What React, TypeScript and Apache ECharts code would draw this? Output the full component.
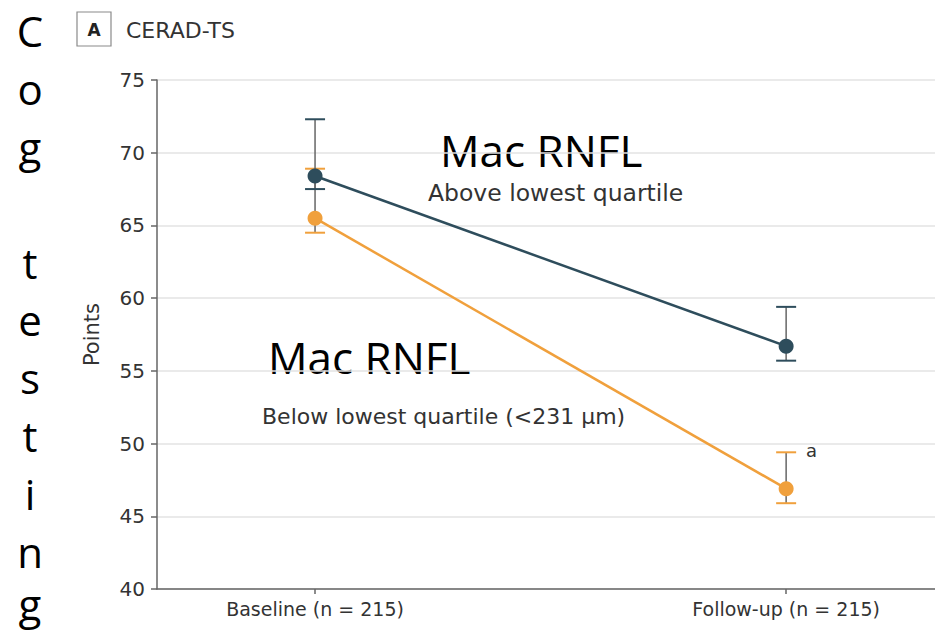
import React, { useEffect, useRef } from "react";
import * as echarts from "echarts";

const categories = ["Baseline (n = 215)", "Follow-up (n = 215)"];
const xPositions = [0, 1];
const aboveMean = [68.4, 56.7];
const aboveLow = [67.5, 55.7];
const aboveHigh = [72.3, 59.4];
const belowMean = [65.5, 46.9];
const belowLow = [64.5, 45.9];
const belowHigh = [68.9, 49.4];
const yTicks = { min: 40, max: 75, interval: 5 };

const DARK = "#2e4d5c";
const ORANGE = "#f0a03c";
const SMALL_FONT = "DejaVu Sans";
const BIG_FONT = "Open Sans";

function errorSeries(means: number[], lows: number[], highs: number[], color: string) {
  return {
    type: "custom",
    silent: true,
    z: 1,
    data: xPositions.map((x, i) => [x, lows[i], highs[i], means[i]]),
    renderItem: (params: any, api: any) => {
      const x = api.value(0);
      const lo = api.coord([x, api.value(1)]);
      const hi = api.coord([x, api.value(2)]);
      const hw = 10;
      return {
        type: "group",
        children: [
          {
            type: "line",
            shape: { x1: lo[0], y1: lo[1], x2: hi[0], y2: hi[1] },
            style: { stroke: "#666666", lineWidth: 1.5 },
          },
          {
            type: "line",
            shape: { x1: lo[0] - hw, y1: lo[1], x2: lo[0] + hw, y2: lo[1] },
            style: { stroke: color, lineWidth: 2 },
          },
          {
            type: "line",
            shape: { x1: hi[0] - hw, y1: hi[1], x2: hi[0] + hw, y2: hi[1] },
            style: { stroke: color, lineWidth: 2 },
          },
        ],
      };
    },
  };
}

export default function App() {
  const ref = useRef<HTMLDivElement>(null);
  useEffect(() => {
    document.body.style.margin = "0";
    if (!ref.current) return;
    const chart = echarts.init(ref.current, null, { renderer: "svg" });
    chart.setOption({
      animation: false,
      backgroundColor: "#ffffff",
      grid: { left: 157, right: 0, top: 80, bottom: 42 },
      xAxis: {
        type: "value",
        min: -0.3355,
        max: 1.316,
        splitLine: { show: false },
        axisLine: { show: true, lineStyle: { color: "#666666", width: 1.5 } },
        axisTick: {
          show: true,
          customValues: xPositions,
          length: 5,
          lineStyle: { color: "#666666", width: 1.5 },
        },
        axisLabel: {
          customValues: xPositions,
          formatter: (v: number) => categories[Math.round(v)] ?? "",
          fontFamily: SMALL_FONT,
          fontSize: 19,
          color: "#333333",
          margin: 10,
        },
      },
      yAxis: {
        type: "value",
        min: yTicks.min,
        max: yTicks.max,
        interval: yTicks.interval,
        name: "Points",
        nameLocation: "middle",
        nameRotate: 90,
        nameGap: 55,
        nameTextStyle: { fontFamily: SMALL_FONT, fontSize: 21, color: "#333333" },
        axisLine: { show: true, onZero: false, lineStyle: { color: "#666666", width: 1.5 } },
        axisTick: { show: true, length: 6, lineStyle: { color: "#666666", width: 1.5 } },
        axisLabel: { fontFamily: SMALL_FONT, fontSize: 20, color: "#333333", margin: 12 },
        splitLine: { show: true, lineStyle: { color: "#e3e3e3", width: 1.5 } },
      },
      series: [
        errorSeries(belowMean, belowLow, belowHigh, ORANGE),
        errorSeries(aboveMean, aboveLow, aboveHigh, DARK),
        {
          type: "line",
          z: 3,
          data: xPositions.map((x, i) => [x, belowMean[i]]),
          symbol: "circle",
          symbolSize: 15,
          lineStyle: { color: ORANGE, width: 2.5 },
          itemStyle: { color: ORANGE },
        },
        {
          type: "line",
          z: 4,
          data: xPositions.map((x, i) => [x, aboveMean[i]]),
          symbol: "circle",
          symbolSize: 15,
          lineStyle: { color: DARK, width: 2.5 },
          itemStyle: { color: DARK },
        },
      ],
      graphic: [
        {
          type: "text",
          x: 30,
          y: 2,
          style: {
            text: "C\no\ng\n \nt\ne\ns\nt\ni\nn",
            fontFamily: BIG_FONT,
            fontSize: 42,
            lineHeight: 57.8,
            fill: "#000000",
            align: "center",
            verticalAlign: "top",
          },
        },
        {
          type: "text",
          x: 30,
          y: 603,
          style: {
            text: "g",
            fontFamily: BIG_FONT,
            fontSize: 42,
            fill: "#000000",
            align: "center",
            verticalAlign: "middle",
          },
        },
        {
          type: "rect",
          shape: { x: 77, y: 12, width: 34, height: 34 },
          style: { fill: "#ffffff", stroke: "#8a8a8a", lineWidth: 1.2 },
        },
        {
          type: "text",
          x: 94,
          y: 30,
          style: {
            text: "A",
            fontFamily: SMALL_FONT,
            fontWeight: "bold",
            fontSize: 17,
            fill: "#222222",
            align: "center",
            verticalAlign: "middle",
          },
        },
        {
          type: "text",
          x: 126,
          y: 30,
          style: {
            text: "CERAD-TS",
            fontFamily: SMALL_FONT,
            fontSize: 22,
            fill: "#333333",
            align: "left",
            verticalAlign: "middle",
          },
        },
        {
          type: "text",
          x: 440,
          y: 150,
          style: {
            text: "Mac RNFL",
            fontFamily: BIG_FONT,
            fontSize: 44,
            fill: "#000000",
            align: "left",
            verticalAlign: "middle",
          },
        },
        {
          type: "text",
          x: 428,
          y: 193,
          style: {
            text: "Above lowest quartile",
            fontFamily: SMALL_FONT,
            fontSize: 23.5,
            fill: "#333333",
            align: "left",
            verticalAlign: "middle",
          },
        },
        {
          type: "text",
          x: 268,
          y: 357,
          style: {
            text: "Mac RNFL",
            fontFamily: BIG_FONT,
            fontSize: 44,
            fill: "#000000",
            align: "left",
            verticalAlign: "middle",
          },
        },
        {
          type: "text",
          x: 262,
          y: 416,
          style: {
            text: "Below lowest quartile (<231 µm)",
            fontFamily: SMALL_FONT,
            fontSize: 22,
            fill: "#333333",
            align: "left",
            verticalAlign: "middle",
          },
        },
        {
          type: "text",
          x: 806,
          y: 450,
          style: {
            text: "a",
            fontFamily: SMALL_FONT,
            fontSize: 18,
            fill: "#333333",
            align: "left",
            verticalAlign: "middle",
          },
        },
      ],
    });
    return () => chart.dispose();
  }, []);
  return <div ref={ref} style={{ width: 935, height: 631 }} />;
}
